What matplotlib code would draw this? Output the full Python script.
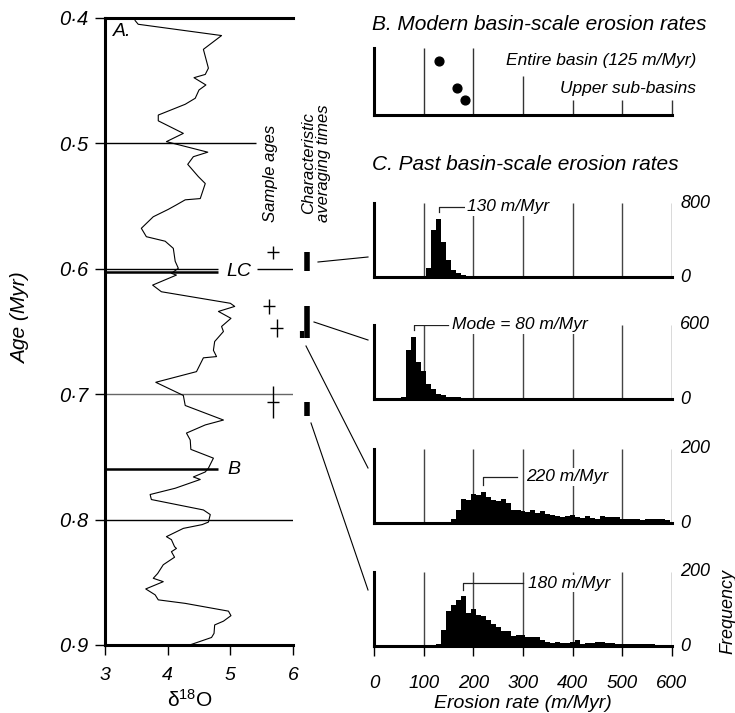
import matplotlib
matplotlib.use('Agg')
import matplotlib.pyplot as plt
from matplotlib.lines import Line2D

plt.rcParams['font.family'] = ['Liberation Sans', 'DejaVu Sans']
plt.rcParams['mathtext.fontset'] = 'custom'
plt.rcParams['mathtext.rm'] = 'Liberation Sans'
plt.rcParams['mathtext.it'] = 'Liberation Sans:italic'

# ---------------- data ----------------
d18o = [3.48, 3.53, 4.86, 4.57, 4.65, 4.60, 4.42, 4.61, 4.50, 4.44, 4.28, 3.85, 3.85,
        4.25, 3.98, 4.64, 4.41, 4.32, 4.49, 4.60, 4.52, 4.28, 4.14, 4.01, 3.77, 3.58,
        3.66, 3.96, 4.09, 4.12, 4.17, 4.06, 4.14, 3.76, 3.90, 5.00, 5.07, 4.81, 5.01,
        4.86, 4.89, 4.75, 4.73, 4.78, 4.57, 4.46, 3.81, 4.25, 4.28, 4.89, 4.60, 4.30,
        4.36, 4.37, 4.73, 4.65, 4.60, 4.41, 4.52, 4.12, 3.72, 3.74, 4.57, 4.68, 4.65,
        4.55, 4.25, 3.98, 4.06, 4.11, 4.14, 4.06, 4.11, 3.93, 3.84, 3.77, 3.93, 3.65,
        3.80, 3.85, 4.28, 4.97, 5.01, 4.89, 4.75, 4.74, 4.70, 4.38]
age = [0.402, 0.405, 0.414, 0.425, 0.440, 0.445, 0.4476, 0.4534, 0.4574, 0.464, 0.4688,
       0.4774, 0.482, 0.492, 0.4986, 0.507, 0.5106, 0.5167, 0.5265, 0.532, 0.544, 0.545,
       0.549, 0.5526, 0.5585, 0.5677, 0.5744, 0.578, 0.5837, 0.594, 0.5996, 0.6036,
       0.605, 0.613, 0.6183, 0.6275, 0.630, 0.634, 0.6395, 0.646, 0.650, 0.658, 0.665,
       0.670, 0.671, 0.682, 0.6905, 0.701, 0.709, 0.7206, 0.7245, 0.731, 0.7365, 0.744,
       0.751, 0.759, 0.762, 0.766, 0.768, 0.775, 0.780, 0.784, 0.7923, 0.796, 0.802,
       0.804, 0.807, 0.8136, 0.816, 0.8216, 0.823, 0.8256, 0.830, 0.836, 0.843, 0.8468,
       0.8495, 0.8553, 0.860, 0.864, 0.8668, 0.873, 0.8766, 0.881, 0.884, 0.8907, 0.894,
       0.8995]

sample_ages = [0.587, 0.630, 0.647, 0.706]
sample_age_err = [0.005, 0.006, 0.0073, 0.0126]
avg_time_ranges = [(0.587, 0.602), (0.630, 0.655), (0.706, 0.717)]
avg_time_small = (0.650, 0.655)

modern_rates = [130, 167, 183]
modern_labels = ['Entire basin (125 m/Myr)', 'Upper sub-basins']

h1_centers = [110, 120, 130, 140, 150, 160, 170, 180, 190]
h1_counts = [95, 504, 632, 383, 183, 77, 40, 18, 5]

h2_centers = [60, 70, 80, 90, 100, 110, 120, 130, 140, 150, 160, 170, 180, 190]
h2_counts = [14, 395, 504, 297, 223, 123, 82, 38, 33, 19, 16, 14, 11, 5]

h3_centers = list(range(160, 600, 10))
h3_counts = [12, 36, 65, 62, 78, 75, 83, 69, 62, 59, 65, 53, 35, 36, 33, 30, 35, 28,
             33, 23, 21, 19, 16, 19, 21, 16, 14, 19, 14, 12, 18, 16, 16, 16, 12, 10,
             10, 10, 7, 10, 12, 10, 10, 9]

h4_centers = list(range(130, 600, 10))
h4_counts = [6, 44, 95, 110, 123, 135, 88, 99, 83, 81, 69, 60, 51, 40, 40, 28, 30, 29,
             25, 23, 23, 17, 11, 9, 11, 9, 9, 11, 16, 6, 9, 9, 11, 11, 9, 7, 6, 5, 5,
             5, 6, 5, 5, 5, 3, 3, 3]

modes = [130, 80, 220, 180]
mode_labels = ['130 m/Myr', 'Mode = 80 m/Myr', '220 m/Myr', '180 m/Myr']
ymaxes = [800, 600, 200, 200]
rate_ticks = [0, 100, 200, 300, 400, 500, 600]
age_ticks = [0.4, 0.5, 0.6, 0.7, 0.8, 0.9]
age_ticklabels = ['0·4', '0·5', '0·6', '0·7', '0·8', '0·9']
d18o_ticks = [3, 4, 5, 6]

# ---------------- layout helpers ----------------
W, H = 735, 713
fig = plt.figure(figsize=(W / 100, H / 100), dpi=100)


def rect(x0, y0, x1, y1):
    return [x0 / W, 1 - y1 / H, (x1 - x0) / W, (y1 - y0) / H]


def fp(x, y):
    return (x / W, 1 - y / H)


SP = 2.2
TXT = 12.5

# ---------------- panel A ----------------
axA = fig.add_axes(rect(105, 18, 293, 645))
axA.set_xlim(3, 6)
axA.set_ylim(0.9, 0.4)
axA.plot(d18o, age, color='black', lw=0.8, zorder=3)
for s in ['right', 'top']:
    axA.spines[s].set_visible(False)
axA.spines['left'].set_linewidth(SP)
axA.spines['bottom'].set_linewidth(SP)
axA.axhline(0.4, color='black', lw=SP, clip_on=False)
axA.hlines(0.5, 3, 5.41, color='black', lw=1.0)
axA.hlines(0.6003, 3, 4.80, color='black', lw=1.0)
axA.hlines(0.6029, 3, 4.80, color='black', lw=1.8)
axA.hlines(0.6003, 5.43, 6, color='black', lw=1.0)
axA.hlines(0.7, 3, 6, color='#666666', lw=1.0)
axA.hlines(0.8, 3, 6, color='black', lw=1.0)
axA.hlines(0.76, 3, 4.80, color='black', lw=1.8)
axA.text(4.93, 0.6025, 'LC', style='italic', fontsize=14, va='center', ha='left')
axA.text(4.96, 0.76, 'B', style='italic', fontsize=14, va='center', ha='left')
axA.text(3.13, 0.411, 'A.', style='italic', fontsize=14, va='center', ha='left')
axA.set_yticks(age_ticks)
axA.set_yticklabels(age_ticklabels, style='italic', fontsize=14.5)
axA.set_xticks(d18o_ticks)
axA.set_xticklabels([str(t) for t in d18o_ticks], style='italic', fontsize=14)
axA.tick_params(axis='y', direction='out', length=7, width=1.0, pad=5)
axA.tick_params(axis='x', direction='out', length=7, width=1.0, pad=9)
fig.text(*fp(21, 318), 'Age (Myr)', rotation=90, ha='center', va='center',
         style='italic', fontsize=15)
fig.text(*fp(190, 700), 'δ$^{18}$O', ha='center', va='center', fontsize=15)

# sample ages (crosses)
cross_x = [5.68, 5.62, 5.74, 5.68]
for cx, a, e in zip(cross_x, sample_ages, sample_age_err):
    axA.errorbar(cx, a, xerr=0.1, yerr=e, fmt='none', ecolor='black', elinewidth=1.0,
                 capsize=0, clip_on=False, zorder=4)
# averaging-time bars
for (a0, a1) in avg_time_ranges:
    axA.vlines(6.22, a0, a1, color='black', lw=4, clip_on=False)
axA.vlines(6.14, avg_time_small[0], avg_time_small[1], color='black', lw=3, clip_on=False)

fig.text(*fp(270, 222), 'Sample ages', rotation=90, ha='center', va='bottom',
         style='italic', fontsize=12)
fig.text(*fp(316, 222), 'Characteristic\naveraging times', rotation=90, ha='center',
         va='bottom', style='italic', fontsize=12, multialignment='center',
         linespacing=1.0)

# connector lines
for (x0, y0, x1, y1) in [(318, 262, 368, 257), (314, 322, 368, 340),
                         (306, 346, 368, 468), (311, 423, 368, 590)]:
    p0, p1 = fp(x0, y0), fp(x1, y1)
    fig.add_artist(Line2D([p0[0], p1[0]], [p0[1], p1[1]], color='black', lw=0.8,
                          transform=fig.transFigure))

# ---------------- panel B ----------------
fig.text(*fp(372, 25), 'B. Modern basin-scale erosion rates', style='italic',
         fontsize=15, va='center', ha='left')
axB = fig.add_axes(rect(374, 48, 672, 115))
axB.set_xlim(0, 600)
axB.set_ylim(0, 1)
for s in ['right', 'top']:
    axB.spines[s].set_visible(False)
axB.spines['left'].set_linewidth(SP)
axB.spines['bottom'].set_linewidth(SP)
axB.set_xticks([])
axB.set_yticks([])
line_tops = [1.0, 1.0, 0.58, 0.22, 0.22, 0.22]
for xv, top in zip(rate_ticks[1:], line_tops):
    axB.vlines(xv, 0, top, color='#333333', lw=1.0, clip_on=False)
axB.scatter(modern_rates, [0.806, 0.403, 0.224], s=40, color='black', zorder=4,
            clip_on=False)
axB.text(1.08, 0.806, modern_labels[0], transform=axB.transAxes, ha='right',
         va='center', style='italic', fontsize=TXT)
axB.text(1.08, 0.40, modern_labels[1], transform=axB.transAxes, ha='right',
         va='center', style='italic', fontsize=TXT)

# ---------------- panel C ----------------
fig.text(*fp(372, 165), 'C. Past basin-scale erosion rates', style='italic',
         fontsize=15, va='center', ha='left')

hist_rows = [(203, 277), (325, 399), (449, 523), (572, 646)]
centers_all = [h1_centers, h2_centers, h3_centers, h4_centers]
counts_all = [h1_counts, h2_counts, h3_counts, h4_counts]
# (bracket bottom y frac, bracket top y frac, line end rate, text start rate)
bracket = [(0.88, 0.946, 187, 187), (0.93, 1.0, 149, 157),
           (0.515, 0.625, 288, 306), (0.755, 0.845, 301, 311)]

for i, (y0, y1) in enumerate(hist_rows):
    ax = fig.add_axes(rect(374, y0, 672, y1))
    ymax = ymaxes[i]
    ax.set_xlim(0, 600)
    ax.set_ylim(0, ymax)
    for s in ['right', 'top']:
        ax.spines[s].set_visible(False)
    ax.spines['left'].set_linewidth(SP)
    ax.spines['bottom'].set_linewidth(SP)
    ax.spines['left'].set_zorder(6)
    ax.spines['bottom'].set_zorder(6)
    ax.vlines(rate_ticks[1:], 0, ymax, color='#444444', lw=1.0, zorder=1)
    ax.bar(centers_all[i], counts_all[i], width=10, color='black', lw=0, zorder=2)
    b0, b1, hx, tx = bracket[i]
    ax.plot([modes[i], modes[i], hx], [b0 * ymax, b1 * ymax, b1 * ymax],
            color='#222222', lw=0.9, zorder=4)
    ax.text(tx, b1 * ymax, mode_labels[i], style='italic', fontsize=TXT, ha='left',
            va='center', zorder=5,
            bbox=dict(facecolor='white', edgecolor='none', pad=1.0))
    ax.set_yticks([])
    ax.text(1.027, 1.0, str(ymax), transform=ax.transAxes, style='italic',
            fontsize=13, ha='left', va='center')
    ax.text(1.027, -0.01, '0', transform=ax.transAxes, style='italic',
            fontsize=13, ha='left', va='center')
    if i < 3:
        ax.set_xticks([])
    else:
        ax.set_xticks(rate_ticks)
        ax.set_xticklabels([str(t) for t in rate_ticks], style='italic', fontsize=13.5)
        ax.tick_params(axis='x', direction='out', length=7, width=1.0, pad=14)

fig.text(*fp(523, 703), 'Erosion rate (m/Myr)', ha='center', va='center',
         style='italic', fontsize=14)
fig.text(*fp(728, 612), 'Frequency', rotation=90, ha='center', va='center',
         style='italic', fontsize=13)

fig.savefig('out.png', dpi=100)
